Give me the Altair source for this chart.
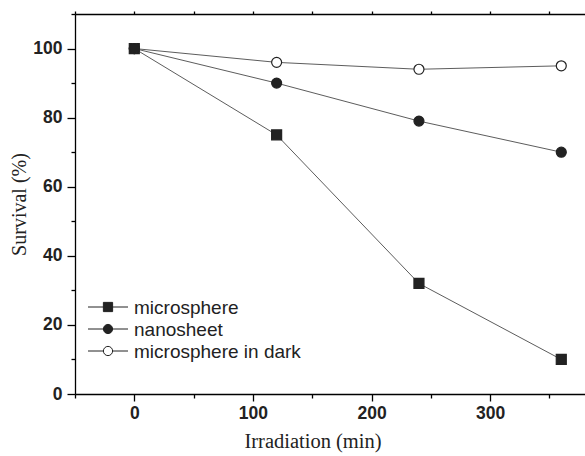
import altair as alt
import pandas as pd

times = [0, 120, 240, 360]
microsphere = [100, 75, 32, 10]
nanosheet = [100, 90, 79, 70]
microsphere_dark = [100, 96, 94, 95]
series_names = ["microsphere", "nanosheet", "microsphere in dark"]

x_ticks = [-50, 0, 50, 100, 150, 200, 250, 300, 350]
y_ticks = [0, 10, 20, 30, 40, 50, 60, 70, 80, 90, 100, 110]

# drawing order: nanosheet last so it sits on top at t=0
draw_order = [("microsphere", microsphere), ("microsphere in dark", microsphere_dark), ("nanosheet", nanosheet)]
rows = []
for name, vals in draw_order:
    for t, v in zip(times, vals):
        rows.append({"time": t, "survival": v, "series": name})
df = pd.DataFrame(rows)
legend_df = pd.DataFrame({"series": series_names})

xscale = alt.Scale(domain=[-50, 380], nice=False, zero=False)
yscale = alt.Scale(domain=[0, 110], nice=False, zero=False)
leg_y = alt.Scale(type="point", domain=series_names, range=[293, 337], padding=0)

INK = "#222222"
common = dict(
    domainColor="black", domainWidth=1.3, tickColor="black", tickWidth=1.3,
    labelFont="Liberation Sans", labelFontWeight="bold", labelFontSize=17.5,
    labelColor=INK, titleFont="Liberation Serif", titleFontWeight="normal",
    titleColor=INK, grid=False, labelOverlap=False,
)

x_axis = alt.Axis(
    orient="bottom", values=x_ticks,
    labelExpr="datum.value % 100 === 0 ? datum.label : ''",
    tickSize={"condition": {"test": "datum.value % 100 === 0", "value": 7}, "value": 4},
    labelPadding=3, title="Irradiation (min)", titleFontSize=20.5,
    titlePadding=10, titleX=237.5, **common,
)
y_axis = alt.Axis(
    orient="left", values=y_ticks,
    labelExpr="datum.value % 20 === 0 ? datum.label : ''",
    tickSize={"condition": {"test": "datum.value % 20 === 0", "value": 8}, "value": 4},
    labelPadding=5, title="Survival (%)", titleFontSize=20, titlePadding=3,
    **common,
)
top_axis = alt.Axis(
    orient="top", values=x_ticks, labels=False, title=None, tickSize=3,
    domainColor="black", domainWidth=1.3, tickColor="black", tickWidth=1.3, grid=False,
)

shape_scale = alt.Scale(domain=series_names, range=["square", "circle", "circle"])
fill_scale = alt.Scale(domain=series_names, range=[INK, INK, "white"])

lines = alt.Chart(df).mark_line(color="#4a4a4a", strokeWidth=0.9).encode(
    x=alt.X("time:Q", scale=xscale, axis=x_axis),
    y=alt.Y("survival:Q", scale=yscale, axis=y_axis),
    detail="series:N",
)

points = alt.Chart(df).mark_point(filled=True, opacity=1, stroke=INK, strokeWidth=1.2, size=100).encode(
    x=alt.X("time:Q", scale=xscale, axis=top_axis),
    y=alt.Y("survival:Q", scale=yscale, axis=None),
    shape=alt.Shape("series:N", scale=shape_scale, legend=None),
    fill=alt.Fill("series:N", scale=fill_scale, legend=None),
)

# legend (inside the plot, lower left)
leg_line = alt.Chart(legend_df).mark_rule(color=INK, strokeWidth=1).encode(
    x=alt.value(13), x2=alt.value(53),
    y=alt.Y("series:N", scale=leg_y, axis=None),
)
leg_pts = alt.Chart(legend_df).mark_point(filled=True, opacity=1, stroke=INK, strokeWidth=1, size=85).encode(
    x=alt.value(33),
    y=alt.Y("series:N", scale=leg_y, axis=None),
    shape=alt.Shape("series:N", scale=shape_scale, legend=None),
    fill=alt.Fill("series:N", scale=fill_scale, legend=None),
)
leg_txt = alt.Chart(legend_df).mark_text(
    align="left", baseline="middle", font="Liberation Sans", fontSize=19, color=INK, dy=1,
).encode(
    x=alt.value(59),
    y=alt.Y("series:N", scale=leg_y, axis=None),
    text="series:N",
)

chart = (
    alt.layer(lines, points, leg_line, leg_pts, leg_txt)
    .resolve_scale(y="independent")
    .resolve_axis(x="independent", y="independent")
    .properties(
        width=510, height=380,
        padding={"left": 75, "top": 14, "right": 0, "bottom": 62},
        autosize=alt.AutoSizeParams(type="none"),
        background="white",
    )
    .configure_view(stroke=None)
)

chart.save("out.html", embed_options={"renderer": "svg", "actions": False})
